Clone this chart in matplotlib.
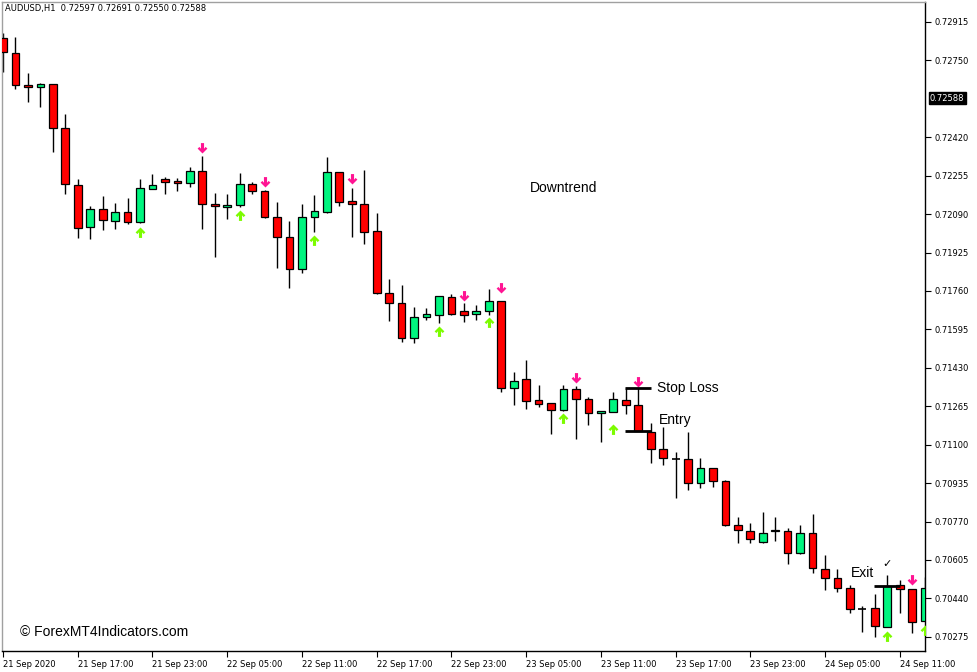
import matplotlib
matplotlib.use("Agg")
import matplotlib.pyplot as plt
from matplotlib.path import Path
from matplotlib.markers import MarkerStyle

# AUDUSD H1 candles
opens = [0.72846, 0.72781, 0.72645, 0.72635, 0.72648, 0.72461, 0.72215, 0.72036, 0.72111, 0.72061,
         0.72098, 0.72055, 0.72198, 0.72240, 0.72232, 0.72223, 0.72274, 0.72134, 0.72122, 0.72129,
         0.72220, 0.72190, 0.72079, 0.71991, 0.71853, 0.72079, 0.72101, 0.72270, 0.72147, 0.72134,
         0.72018, 0.71753, 0.71707, 0.71557, 0.71649, 0.71657, 0.71734, 0.71674, 0.71660, 0.71672,
         0.71716, 0.71343, 0.71382, 0.71292, 0.71278, 0.71249, 0.71338, 0.71295, 0.71238, 0.71242,
         0.71292, 0.71271, 0.71156, 0.71081, 0.71040, 0.71038, 0.70935, 0.70999, 0.70945, 0.70756,
         0.70731, 0.70681, 0.70729, 0.70731, 0.70634, 0.70720, 0.70565, 0.70529, 0.70484, 0.70396,
         0.70398, 0.70319, 0.70498, 0.70480, 0.70345]
highs = [0.72868, 0.72852, 0.72696, 0.72653, 0.72650, 0.72519, 0.72241, 0.72125, 0.72168, 0.72139,
         0.72158, 0.72240, 0.72262, 0.72251, 0.72244, 0.72294, 0.72340, 0.72182, 0.72177, 0.72266,
         0.72228, 0.72192, 0.72144, 0.72062, 0.72134, 0.72171, 0.72337, 0.72272, 0.72204, 0.72280,
         0.72096, 0.71810, 0.71786, 0.71690, 0.71689, 0.71740, 0.71747, 0.71707, 0.71700, 0.71767,
         0.71718, 0.71411, 0.71464, 0.71357, 0.71280, 0.71357, 0.71352, 0.71306, 0.71246, 0.71325,
         0.71343, 0.71343, 0.71192, 0.71178, 0.71070, 0.71156, 0.71042, 0.71001, 0.70947, 0.70791,
         0.70763, 0.70813, 0.70791, 0.70741, 0.70756, 0.70801, 0.70627, 0.70565, 0.70498, 0.70408,
         0.70459, 0.70541, 0.70520, 0.70482, 0.70531]
lows = [0.72700, 0.72626, 0.72573, 0.72550, 0.72358, 0.72175, 0.71989, 0.71982, 0.72022, 0.72025,
        0.72047, 0.72050, 0.72196, 0.72175, 0.72191, 0.72205, 0.72028, 0.71905, 0.72068, 0.72120,
        0.72177, 0.72072, 0.71858, 0.71772, 0.71839, 0.72015, 0.72096, 0.72126, 0.71991, 0.71962,
        0.71748, 0.71633, 0.71543, 0.71536, 0.71636, 0.71622, 0.71658, 0.71628, 0.71636, 0.71658,
        0.71328, 0.71271, 0.71252, 0.71261, 0.71146, 0.71246, 0.71124, 0.71185, 0.71113, 0.71240,
        0.71232, 0.71158, 0.71023, 0.71013, 0.70870, 0.70906, 0.70913, 0.70920, 0.70753, 0.70677,
        0.70677, 0.70679, 0.70688, 0.70587, 0.70632, 0.70548, 0.70477, 0.70467, 0.70377, 0.70298,
        0.70276, 0.70317, 0.70377, 0.70291, 0.70343]
closes = [0.72786, 0.72645, 0.72635, 0.72648, 0.72461, 0.72220, 0.72032, 0.72111, 0.72065, 0.72101,
          0.72055, 0.72201, 0.72215, 0.72229, 0.72223, 0.72274, 0.72132, 0.72124, 0.72128, 0.72220,
          0.72190, 0.72077, 0.71991, 0.71853, 0.72077, 0.72102, 0.72270, 0.72144, 0.72132, 0.72012,
          0.71750, 0.71707, 0.71557, 0.71649, 0.71661, 0.71737, 0.71661, 0.71658, 0.71673, 0.71716,
          0.71343, 0.71374, 0.71288, 0.71274, 0.71249, 0.71338, 0.71295, 0.71235, 0.71244, 0.71295,
          0.71271, 0.71160, 0.71081, 0.71042, 0.71040, 0.70937, 0.70999, 0.70945, 0.70756, 0.70734,
          0.70694, 0.70723, 0.70734, 0.70634, 0.70720, 0.70570, 0.70529, 0.70484, 0.70394, 0.70396,
          0.70322, 0.70494, 0.70480, 0.70338, 0.70484]

# indicator arrows (bar index, price of the arrow tip)
buy_idx = [11, 19, 25, 35, 39, 45, 49, 71, 74]
buy_price = [0.72035, 0.72108, 0.72001, 0.71610, 0.71649, 0.71236, 0.71189, 0.70302, 0.70326]
sell_idx = [16, 21, 28, 37, 40, 46, 51, 73]
sell_price = [0.72354, 0.72208, 0.72220, 0.71719, 0.71753, 0.71365, 0.71349, 0.70498]

# trade levels
stop_loss = 0.71343
entry = 0.71159
exit_price = 0.70494

time_labels = ["21 Sep 2020", "21 Sep 17:00", "21 Sep 23:00", "22 Sep 05:00", "22 Sep 11:00",
               "22 Sep 17:00", "22 Sep 23:00", "23 Sep 05:00", "23 Sep 11:00", "23 Sep 17:00",
               "23 Sep 23:00", "24 Sep 05:00", "24 Sep 11:00"]
price_ticks = [0.72915, 0.72750, 0.72420, 0.72255, 0.72090, 0.71925, 0.71760, 0.71595, 0.71430,
               0.71265, 0.71100, 0.70935, 0.70770, 0.70605, 0.70440, 0.70275]
bid = 0.72588
header = "AUDUSD,H1  0.72597 0.72691 0.72550 0.72588"

RED = "#ff0000"
GREEN = "#00f57f"

W, H = 977, 672
fig = plt.figure(figsize=(W / 100, H / 100), dpi=100)
ax = fig.add_axes([1.7 / W, 20.7 / H, 923.3 / W, 649.6 / H])

# candles
n = len(opens)
for i in range(n):
    o, h, l, c = opens[i], highs[i], lows[i], closes[i]
    ax.vlines(i, l, h, color="black", lw=1, zorder=2)
    if o == c:
        ax.hlines(o, i - 0.32, i + 0.32, color="black", lw=1.2, zorder=3)
        continue
    col = GREEN if c > o else RED
    ax.bar(i, abs(c - o), bottom=min(o, c), width=0.62, color=col,
           edgecolor="black", linewidth=0.9, zorder=3)

# arrow markers, tip at the origin
dn = [(0, 0), (0.47, 0.47), (0.3, 0.63), (0.15, 0.46), (0.15, 1.0), (-0.15, 1.0),
      (-0.15, 0.46), (-0.3, 0.63), (-0.47, 0.47), (0, 0)]
up = [(x, -y) for x, y in dn]
dn_marker = MarkerStyle(Path(dn, closed=True))
up_marker = MarkerStyle(Path(up, closed=True))
ax.plot(sell_idx, sell_price, ls="none", marker=dn_marker, ms=15, color="#ff1493",
        mec="none", zorder=4)
ax.plot(buy_idx, buy_price, ls="none", marker=up_marker, ms=15, color="#7cfc00",
        mec="none", zorder=4)

# trade lines and notes
ax.hlines(stop_loss, 49.95, 52.05, color="black", lw=2, zorder=5)
ax.hlines(entry, 49.95, 52.05, color="black", lw=2, zorder=5)
ax.hlines(exit_price, 69.95, 72.05, color="black", lw=2, zorder=5)
tf = dict(family="Liberation Sans", fontsize=10, va="center", ha="left")
ax.text(52.5, stop_loss, "Stop Loss", **tf)
ax.text(52.7, 0.71206, "Entry", **tf)
ax.text(68.1, 0.70550, "Exit", **tf)
ax.text(42.3, 0.72202, "Downtrend", **tf)
ax.text(71, 0.70586, "\u2713", family="DejaVu Sans", fontsize=8, ha="center", va="center")
ax.text(18 / 923.3, (651.3 - 632) / 649.6, "\u00a9 ForexMT4Indicators.com", transform=ax.transAxes,
        family="Liberation Sans", fontsize=10, va="center", ha="left")

ax.set_xlim(-0.108, 74.03)
ax.set_ylim(0.70213, 0.73002)

ax.yaxis.tick_right()
ax.set_yticks(price_ticks)
ax.set_yticklabels(["%.5f" % p for p in price_ticks])
ax.set_xticks(range(0, 6 * len(time_labels), 6))
ax.set_xticklabels(time_labels, ha="left")
ax.tick_params(axis="both", direction="out", length=4, width=0.8, labelsize=6, pad=1.5,
               colors="black")
ax.tick_params(axis="y", pad=3)
ax.tick_params(axis="x", pad=2)

# current bid label on the price scale
ax.text(1.0 + 5 / 923.3, bid, "%.5f" % bid, transform=ax.get_yaxis_transform(), fontsize=6,
        color="white", va="center", ha="left",
        bbox=dict(boxstyle="square,pad=0.15", fc="black", ec="black"), clip_on=False)

for s in ["left", "top"]:
    ax.spines[s].set_color("#a0a0a0")
for s in ["right", "bottom"]:
    ax.spines[s].set_color("black")
for s in ax.spines.values():
    s.set_linewidth(1)

fig.text(5 / W, 1 - 9 / H, header, fontsize=6, va="center", ha="left")

fig.savefig("out.png", dpi=100)
